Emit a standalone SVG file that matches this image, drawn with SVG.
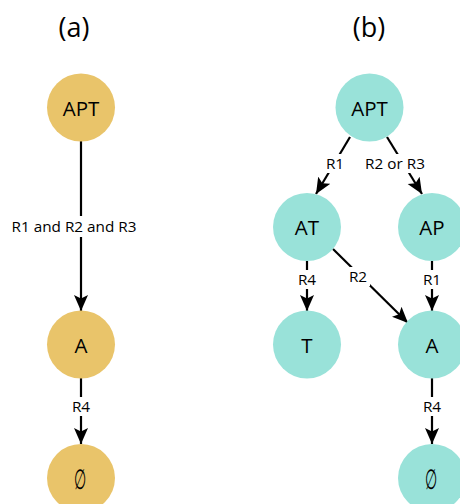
<svg xmlns="http://www.w3.org/2000/svg" width="460" height="504" viewBox="0 0 460 504">
<defs>
<style>
.title{font-family:"Open Sans","Noto Sans",sans-serif;font-size:27px;fill:#000;text-anchor:middle}
.nl{font-family:"Open Sans","Noto Sans",sans-serif;font-size:20.5px;fill:#000;text-anchor:middle;dominant-baseline:central}
.es{font-family:"DejaVu Serif",serif;font-size:28px;fill:#000;text-anchor:middle;dominant-baseline:central}
.el{font-family:"Open Sans","Noto Sans",sans-serif;font-size:15.3px;fill:#000;text-anchor:middle;dominant-baseline:central}
.y{fill:#E9C46A}
.t{fill:#99E2D9}
.e{stroke:#000;stroke-width:2.2;fill:none;marker-end:url(#ah)}
.lb{fill:#fff}
</style>
<marker id="ah" markerUnits="userSpaceOnUse" markerWidth="17" markerHeight="15" refX="16" refY="7" orient="auto" viewBox="0 0 17 14">
<path d="M0,0 L16,7 L0,14 L3.5,7 z" fill="#000"/>
</marker>
</defs>
<text class="title" x="74" y="37">(a)</text>
<text class="title" x="369" y="37">(b)</text>
<g id="connectors">
<line class="e" x1="81" y1="141" x2="81" y2="311"/>
<rect class="lb" x="8" y="216" width="132" height="21"/>
<text class="el" x="74" y="226">R1 and R2 and R3</text>
<line class="e" x1="81" y1="378" x2="81" y2="444"/>
<rect class="lb" x="67" y="397" width="28" height="19"/>
<text class="el" x="81" y="406">R4</text>
<line class="e" x1="350" y1="137" x2="316" y2="194"/>
<rect class="lb" x="324" y="154" width="22" height="19"/>
<text class="el" x="335" y="163">R1</text>
<line class="e" x1="387" y1="137" x2="422" y2="194"/>
<rect class="lb" x="362" y="154" width="67" height="19"/>
<text class="el" x="395" y="163">R2 or R3</text>
<line class="e" x1="307" y1="261" x2="307" y2="311"/>
<rect class="lb" x="295" y="270" width="24" height="19"/>
<text class="el" x="307" y="279">R4</text>
<line class="e" x1="432" y1="261" x2="432" y2="311"/>
<rect class="lb" x="420" y="270" width="24" height="19"/>
<text class="el" x="432" y="279">R1</text>
<line class="e" x1="333" y1="249" x2="408" y2="323"/>
<rect class="lb" x="346" y="267" width="24" height="19"/>
<text class="el" x="358" y="276">R2</text>
<line class="e" x1="432" y1="378" x2="432" y2="444"/>
<rect class="lb" x="418" y="397" width="28" height="19"/>
<text class="el" x="432" y="406">R4</text>
</g>
<g id="a-APT"><circle class="y" cx="81" cy="107.5" r="34"/><text class="nl" x="81" y="107.5">APT</text></g>
<g id="a-A"><circle class="y" cx="81" cy="344.5" r="34"/><text class="nl" x="81" y="344.5">A</text></g>
<g id="a-empty"><circle class="y" cx="81" cy="478" r="34"/><text class="es" transform="translate(80.5 478.5) scale(0.5 1)">∅</text></g>
<g id="b-APT"><circle class="t" cx="369.5" cy="107.5" r="34"/><text class="nl" x="369.5" y="107.5">APT</text></g>
<g id="b-AT"><circle class="t" cx="307" cy="227" r="34"/><text class="nl" x="307" y="227">AT</text></g>
<g id="b-AP"><circle class="t" cx="432" cy="227" r="34"/><text class="nl" x="432" y="227">AP</text></g>
<g id="b-T"><circle class="t" cx="307" cy="344.5" r="34"/><text class="nl" x="307" y="344.5">T</text></g>
<g id="b-A"><circle class="t" cx="432" cy="344.5" r="34"/><text class="nl" x="432" y="344.5">A</text></g>
<g id="b-empty"><circle class="t" cx="432" cy="478" r="34"/><text class="es" transform="translate(431.5 478.5) scale(0.5 1)">∅</text></g>
</svg>
